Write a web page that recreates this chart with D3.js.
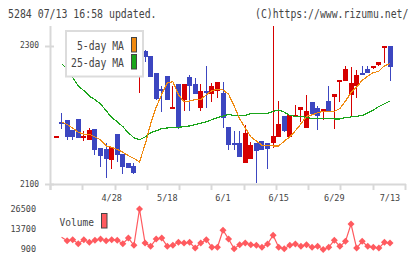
<!DOCTYPE html>
<html>
<head>
<meta charset="utf-8">
<script src="https://cdnjs.cloudflare.com/ajax/libs/d3/7.8.5/d3.min.js"></script>
<style>
  html, body { margin: 0; padding: 0; background: #fff; }
  svg { display: block; }
  text { font-family: "DejaVu Sans Mono", monospace; fill: #444; }
</style>
</head>
<body>
<script>
// daily candles, oldest first (61 trading days)
var open  = [2169,2189,2193,2178,2194,2168,2164,2179,2152,2150,2134,2172,2143,2131,2126,2260,2292,2285,2260,2238,
             2256,2210,2245,2222,2255,2245,2210,2234,2231,2234,2232,2183,2159,2159,2130,2136,2159,2162,2159,2159,
             2168,2198,2168,2198,2207,2181,2219,2210,2207,2220,2226,2249,2249,2229,2242,2260,2266,2268,2271,2299,2300];
var close = [2170,2186,2169,2168,2166,2169,2178,2149,2140,2135,2153,2142,2124,2124,2116,2271,2283,2255,2223,2236,
             2222,2211,2182,2245,2242,2231,2235,2231,2242,2247,2196,2157,2158,2139,2174,2156,2148,2149,2151,2169,
             2187,2176,2200,2200,2211,2205,2201,2199,2209,2205,2230,2250,2267,2246,2258,2258,2260,2271,2276,2300,2270];
var high  = [2170,2203,2193,2178,2194,2177,2181,2179,2152,2159,2153,2172,2143,2131,2131,2280,2294,2285,2260,2241,
             2256,2241,2245,2245,2257,2253,2244,2271,2246,2247,2247,2183,2177,2177,2185,2161,2159,2162,2159,2328,
             2220,2198,2200,2214,2211,2229,2219,2213,2209,2241,2230,2251,2271,2269,2265,2271,2271,2271,2276,2300,2300];
var low   = [2169,2179,2164,2164,2166,2162,2164,2142,2125,2108,2121,2132,2115,2124,2114,2231,2277,2255,2221,2204,
             2222,2209,2179,2206,2206,2231,2205,2210,2219,2225,2181,2149,2149,2139,2130,2136,2101,2149,2121,2152,
             2168,2175,2168,2198,2190,2181,2201,2178,2192,2204,2180,2219,2249,2199,2224,2257,2260,2266,2270,2275,2249];

var ma5  = [null,2190,2186,2181,2175,2172,2172,2168,2164,2155,2153,2150,2146,2141,2137,2132,2157,2187,2211,2230,
            2246,2248,2229,2219,2220,2222,2222,2229,2235,2237,2236,2230,2213,2194,2181,2168,2162,2156,2156,2155,
            2155,2162,2168,2177,2187,2198,2200,2203,2205,2205,2205,2209,2220,2232,2240,2250,2256,2261,2263,2271,2274];
var ma25 = [null,2274,2266,2254,2242,2235,2227,2222,2216,2206,2196,2190,2183,2174,2167,2164,2168,2174,2177,2180,
            2181,2182,2182,2183,2184,2186,2188,2190,2193,2196,2198,2201,2199,2199,2199,2202,2202,2202,2202,2205,
            2207,2204,2199,2198,2198,2196,2195,2195,2195,2195,2194,2194,2196,2197,2198,2199,2203,2207,2212,2216,2220];

var volume = [null,8400,6200,6900,4300,6900,5200,6500,7300,6200,6900,6500,4300,7900,3300,26500,4700,2600,7300,7900,
              2600,3300,5200,4700,5200,1500,4700,6900,2000,2000,12900,7300,1100,3700,4700,3700,3300,2000,4100,9700,
              2000,1100,3300,4100,2600,3700,2000,2600,600,2000,6500,2600,5800,16900,1500,5800,2600,2000,1500,5200,4700];

var dateLabels = ["4/28", "5/18", "6/1", "6/15", "6/29", "7/13"];
var dateIndex  = [10, 20, 30, 40, 50, 60];
var priceTicks = [2100, 2300];
var volTicks   = [26500, 13700, 900];

var width = 420, height = 259;
var upColor = "#d60000", downColor = "#3c46c0";

var svg = d3.select("body").append("svg")
    .attr("width", width)
    .attr("height", height);

// scales
var x = d3.scalePoint()
    .domain(d3.range(open.length))
    .range([56, 390]);

var y = d3.scaleLinear()
    .domain([2100, 2300])
    .range([184, 45.7]);

var yv = d3.scaleLinear()
    .domain([900, 26500])
    .range([249, 209]);

// header (narrow bitmap-like font, squeezed horizontally)
svg.append("text")
    .attr("transform", "translate(8,18) scale(0.76,1)")
    .style("font-size", "13px")
    .text("5284 07/13 16:58 updated.");

svg.append("text")
    .attr("transform", "translate(255,18) scale(0.755,1)")
    .style("font-size", "13px")
    .text("(C)https://www.rizumu.net/");

// axes frame
var axisColor = "#d8d8d8";
var tickX = d3.scaleLinear().domain([0, 11]).range([50, 405]);

svg.append("line")
    .attr("x1", 50.5).attr("x2", 50.5)
    .attr("y1", 26).attr("y2", 190)
    .attr("stroke", axisColor).attr("stroke-width", 2);

svg.append("line")
    .attr("x1", 50).attr("x2", 406)
    .attr("y1", 184.5).attr("y2", 184.5)
    .attr("stroke", axisColor).attr("stroke-width", 2);

svg.selectAll(".xtick").data(d3.range(12)).enter()
  .append("line")
    .attr("class", "xtick")
    .attr("x1", function(d) { return Math.round(tickX(d)) + 0.5; })
    .attr("x2", function(d) { return Math.round(tickX(d)) + 0.5; })
    .attr("y1", 184).attr("y2", 190)
    .attr("stroke", axisColor).attr("stroke-width", 2);

svg.selectAll(".ytick").data(priceTicks).enter()
  .append("line")
    .attr("class", "ytick")
    .attr("x1", 45).attr("x2", 54)
    .attr("y1", function(d) { return Math.round(y(d)) + 0.5; })
    .attr("y2", function(d) { return Math.round(y(d)) + 0.5; })
    .attr("stroke", axisColor).attr("stroke-width", 2);

svg.selectAll(".ylabel").data(priceTicks).enter()
  .append("text")
    .attr("class", "ylabel")
    .attr("x", 20)
    .attr("y", function(d) { return y(d) + 2.7; })
    .attr("textLength", 19).attr("lengthAdjust", "spacingAndGlyphs")
    .style("font-size", "8px")
    .text(function(d) { return d; });

svg.selectAll(".xlabel").data(dateLabels).enter()
  .append("text")
    .attr("class", "xlabel")
    .attr("x", function(d, i) { return x(dateIndex[i]); })
    .attr("y", 201)
    .attr("text-anchor", "middle")
    .style("font-size", "8.5px")
    .text(function(d) { return d; });

// candles
var idx = d3.range(open.length);
var g = svg.append("g").attr("shape-rendering", "crispEdges");

function colorOf(i) { return close[i] >= open[i] ? upColor : downColor; }
function left(i) { return Math.round(x(i) - 2.5); }

g.selectAll(".wick").data(idx).enter()
  .append("line")
    .attr("class", "wick")
    .attr("x1", function(i) { return left(i) + 2.5; })
    .attr("x2", function(i) { return left(i) + 2.5; })
    .attr("y1", function(i) { return y(high[i]); })
    .attr("y2", function(i) { return y(low[i]); })
    .attr("stroke", colorOf)
    .attr("stroke-width", 1);

g.selectAll(".body").data(idx).enter()
  .append("rect")
    .attr("class", "body")
    .attr("x", left)
    .attr("width", 5)
    .attr("y", function(i) { return Math.round(y(Math.max(open[i], close[i]))); })
    .attr("height", function(i) { return Math.max(2, Math.round(Math.abs(y(open[i]) - y(close[i])))); })
    .attr("fill", colorOf);

// moving averages
var maLine = function(arr) {
  return d3.line()
    .defined(function(i) { return arr[i] != null; })
    .x(function(i) { return x(i); })
    .y(function(i) { return y(arr[i]); })(idx);
};

g.append("path")
    .attr("d", maLine(ma25))
    .attr("fill", "none")
    .attr("stroke", "#1aa51a")
    .attr("stroke-width", 1.2);

g.append("path")
    .attr("d", maLine(ma5))
    .attr("fill", "none")
    .attr("stroke", "#f08a10")
    .attr("stroke-width", 1.2);

// legend
var legend = svg.append("g");
legend.append("rect")
    .attr("x", 66).attr("y", 31)
    .attr("width", 77).attr("height", 45.5)
    .attr("fill", "#fff")
    .attr("stroke", "#dcdcdc").attr("stroke-width", 2);

var legendItems = [
  {label: "5-day MA", color: "#f08a10", len: 47},
  {label: "25-day MA", color: "#1aa51a", len: 53}
];

legend.selectAll(".ltext").data(legendItems).enter()
  .append("text")
    .attr("class", "ltext")
    .attr("x", function(d) { return 124 - d.len; })
    .attr("y", function(d, i) { return 50 + i * 16.7; })
    .attr("textLength", function(d) { return d.len; })
    .attr("lengthAdjust", "spacingAndGlyphs")
    .style("font-size", "11.5px")
    .text(function(d) { return d.label; });

legend.selectAll(".lswatch").data(legendItems).enter()
  .append("rect")
    .attr("class", "lswatch")
    .attr("x", 131.5)
    .attr("y", function(d, i) { return 37.5 + i * 17; })
    .attr("width", 5).attr("height", 14.5)
    .attr("fill", function(d) { return d.color; })
    .attr("stroke", "#444").attr("stroke-width", 1);

// volume
var volColor = "#ff5a5f";
var vidx = idx.filter(function(i) { return volume[i] != null; });

svg.selectAll(".vlabel").data(volTicks).enter()
  .append("text")
    .attr("class", "vlabel")
    .attr("x", 36)
    .attr("y", function(d) { return yv(d) + 2.7; })
    .attr("text-anchor", "end")
    .style("font-size", "8.5px")
    .text(function(d) { return d; });

svg.append("path")
    .attr("d", d3.line()
      .x(function(i) { return x(i); })
      .y(function(i) { return yv(volume[i]); })(vidx))
    .attr("fill", "none")
    .attr("stroke", volColor)
    .attr("stroke-width", 1.2);

svg.selectAll(".vmark").data(vidx.slice(1)).enter()
  .append("path")
    .attr("class", "vmark")
    .attr("transform", function(i) { return "translate(" + x(i) + "," + yv(volume[i]) + ")"; })
    .attr("d", "M0,-3.5L3.5,0L0,3.5L-3.5,0Z")
    .attr("fill", volColor);

svg.append("text")
    .attr("x", 59.5).attr("y", 225.5)
    .attr("textLength", 34.5).attr("lengthAdjust", "spacingAndGlyphs")
    .style("font-size", "11px")
    .text("Volume");

svg.append("rect")
    .attr("x", 101.5).attr("y", 213.5)
    .attr("width", 5.5).attr("height", 14.5)
    .attr("fill", volColor)
    .attr("stroke", "#444").attr("stroke-width", 1);
</script>
</body>
</html>
